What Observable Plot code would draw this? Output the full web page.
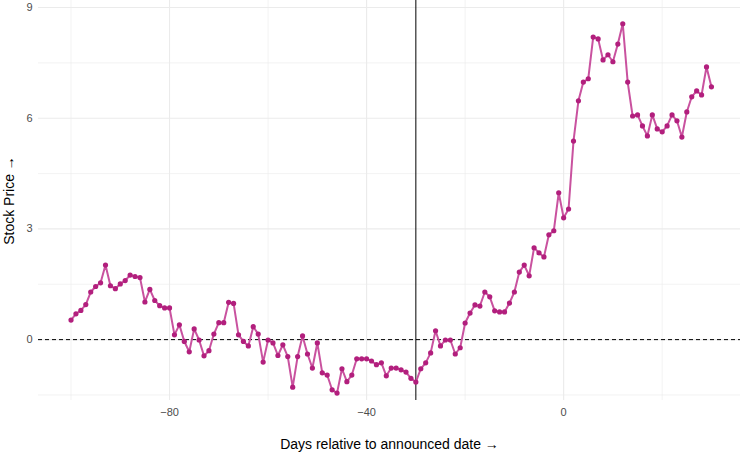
<!DOCTYPE html>
<html><head><meta charset="utf-8">
<script src="https://cdn.jsdelivr.net/npm/d3@7"></script>
<script src="https://cdn.jsdelivr.net/npm/@observablehq/plot@0.6"></script>
<style>body{margin:0;background:#fff}</style>
</head><body><div id="chart"></div>
<script>
// days run from -100 to 30, one value per day
const startDay = -100
const prices = [
  0.53,0.70,0.79,0.95,1.29,1.44,1.54,2.02,1.46,1.38,1.51,1.60,1.75,1.71,1.68,1.02,1.36,1.06,0.92,0.86,
  0.86,0.13,0.40,-0.05,-0.33,0.29,-0.01,-0.44,-0.30,0.15,0.46,0.46,1.01,0.98,0.13,-0.05,-0.17,0.35,0.15,-0.61,
  -0.01,-0.09,-0.43,-0.14,-0.46,-1.29,-0.46,0.10,-0.39,-0.77,-0.09,-0.90,-0.96,-1.36,-1.45,-0.79,-1.14,-0.96,-0.52,-0.52,
  -0.52,-0.58,-0.68,-0.63,-0.98,-0.77,-0.77,-0.82,-0.88,-1.05,-1.15,-0.79,-0.63,-0.36,0.24,-0.17,-0.01,-0.01,-0.39,-0.22,
  0.45,0.72,0.94,0.91,1.29,1.16,0.78,0.75,0.75,0.99,1.29,1.83,2.02,1.73,2.49,2.35,2.24,2.84,2.95,3.98,
  3.30,3.54,5.38,6.47,6.98,7.07,8.20,8.15,7.58,7.72,7.53,8.01,8.56,6.98,6.06,6.09,5.79,5.52,6.09,5.71,
  5.63,5.79,6.09,5.93,5.49,6.17,6.58,6.74,6.63,7.39,6.85
]
const announceDay = -30
const xTicks = [-80, -40, 0]
const xMinor = [-100, -60, -20, 20]
const yTicks = [0, 3, 6, 9]
const yMinor = [-1.5, 1.5, 4.5, 7.5]

const data = prices.map((v, i) => ({day: startDay + i, price: v}))

let chart = Plot.plot({
  width: 750,
  height: 455,
  marginLeft: 38,
  marginRight: 10,
  marginTop: 0,
  marginBottom: 55,
  style: {fontFamily: "Liberation Sans, Arial, sans-serif", fontSize: 11, color: "#4d4d4d"},
  x: {domain: [-106.6, 35.9], ticks: xTicks, tickSize: 0, tickPadding: 8,
      label: "Days relative to announced date", labelAnchor: "center", labelOffset: 48},
  y: {domain: [-1.65, 9.19], ticks: yTicks, tickSize: 0, tickPadding: 6,
      label: "Stock Price", labelAnchor: "center", labelOffset: 34},
  marks: [
    Plot.ruleX(xMinor, {stroke: "#ebebeb", strokeWidth: 0.6}),
    Plot.ruleY(yMinor, {stroke: "#ebebeb", strokeWidth: 0.6}),
    Plot.ruleX(xTicks, {stroke: "#ebebeb", strokeWidth: 1.1}),
    Plot.ruleY(yTicks, {stroke: "#ebebeb", strokeWidth: 1.1}),
    Plot.ruleY([0], {stroke: "black", strokeDasharray: "4,3"}),
    Plot.ruleX([announceDay], {stroke: "black", strokeWidth: 1}),
    Plot.line(data, {x: "day", y: "price", stroke: "#c9529f", strokeWidth: 2}),
    Plot.dot(data, {x: "day", y: "price", fill: "#b21f7d", r: 2.6})
  ]
})
d3.select(chart).selectAll("[aria-label$='axis label'] text, [aria-label$='axis label']")
  .attr("font-size", 14).attr("fill", "#000")
d3.select('#chart').append(() => chart)
</script>
</body></html>
